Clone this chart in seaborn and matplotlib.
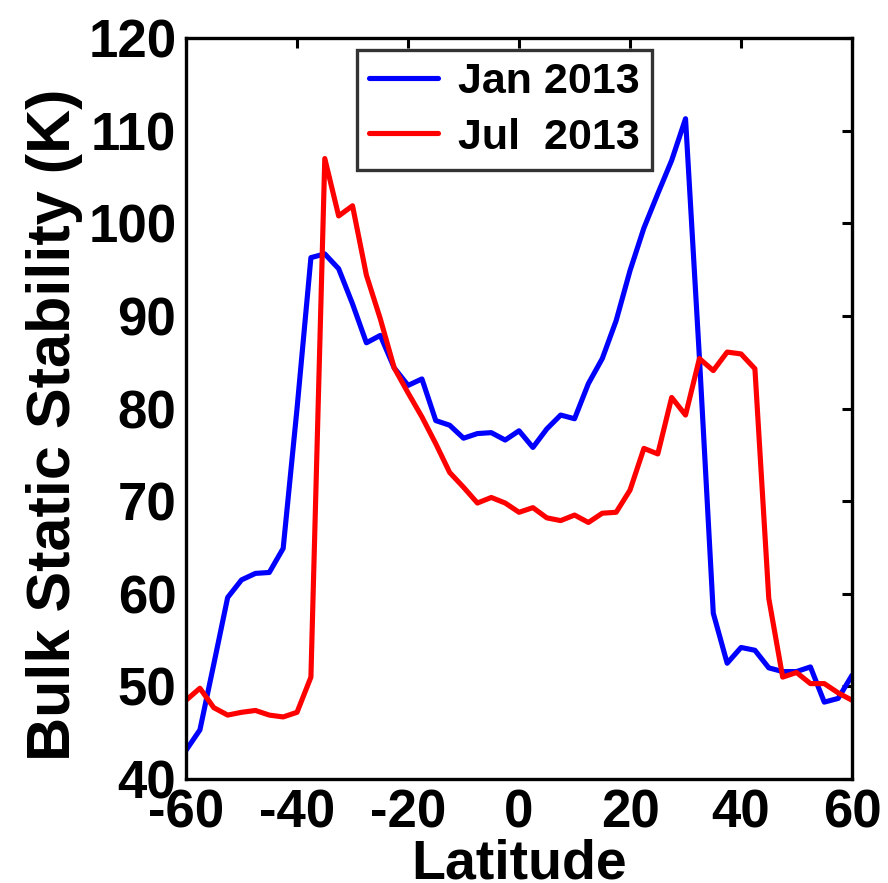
import numpy as np
import pandas as pd
import matplotlib
matplotlib.use("Agg")
import matplotlib.pyplot as plt
import seaborn as sns

# Latitude grid (2.5 degree spacing)
latitude = np.arange(-60, 60.01, 2.5)

# Bulk static stability (K), January 2013
jan_2013 = [43.1, 45.3, 52.4, 59.6, 61.5, 62.2, 62.3, 64.9, 80.0, 96.3,
            96.7, 95.1, 91.3, 87.1, 87.9, 84.4, 82.5, 83.2, 78.7, 78.2,
            76.8, 77.3, 77.4, 76.6, 77.6, 75.8, 77.8, 79.3, 78.9, 82.7,
            85.4, 89.5, 94.9, 99.5, 103.2, 106.8, 111.3, 85.5, 57.9, 52.5,
            54.2, 53.9, 52.0, 51.6, 51.6, 52.1, 48.3, 48.7, 51.2]

# Bulk static stability (K), July 2013
jul_2013 = [48.5, 49.8, 47.7, 46.9, 47.2, 47.4, 46.9, 46.7, 47.2, 51.0,
            107.0, 100.8, 101.9, 94.4, 89.7, 84.4, 81.7, 79.1, 76.2, 73.1,
            71.5, 69.8, 70.4, 69.8, 68.8, 69.3, 68.2, 67.9, 68.5, 67.7,
            68.7, 68.8, 71.2, 75.7, 75.1, 81.2, 79.3, 85.4, 84.1, 86.1,
            85.9, 84.3, 59.5, 51.0, 51.5, 50.3, 50.3, 49.3, 48.5]

series_names = ["Jan 2013", "Jul  2013"]
series_colors = ["#0000ff", "#ff0000"]

y_ticks = [40, 50, 60, 70, 80, 90, 100, 110, 120]
x_ticks = [-60, -40, -20, 0, 20, 40, 60]

df = pd.DataFrame({
    "Latitude": np.concatenate([latitude, latitude]),
    "Stability": np.concatenate([jan_2013, jul_2013]),
    "Month": [series_names[0]] * len(latitude) + [series_names[1]] * len(latitude),
})

sns.set_style("white")
plt.rcParams["font.family"] = ["Liberation Sans", "DejaVu Sans"]
plt.rcParams["font.weight"] = "bold"
plt.rcParams["text.color"] = "black"
plt.rcParams["axes.labelcolor"] = "black"
plt.rcParams["xtick.color"] = "black"
plt.rcParams["ytick.color"] = "black"
plt.rcParams["legend.edgecolor"] = "black"

fig = plt.figure(figsize=(8.88, 8.83), dpi=100)
ax = fig.add_axes([0.2095, 0.1178, 0.75, 0.839])

sns.lineplot(data=df, x="Latitude", y="Stability", hue="Month",
             palette=dict(zip(series_names, series_colors)),
             linewidth=3.7, ax=ax, legend=False)

ax.set_xlim(-60, 60)
ax.set_ylim(40, 120)
ax.set_xticks(x_ticks)
ax.set_yticks(y_ticks)
ax.set_xticklabels([str(t) for t in x_ticks], fontsize=38, fontweight="bold")
ax.set_yticklabels([str(t) for t in y_ticks], fontsize=38, fontweight="bold")
ax.tick_params(direction="in", length=7, width=2.2, top=True, right=True,
               pad=7, colors="black", labelcolor="black")

for sp in ax.spines.values():
    sp.set_visible(True)
    sp.set_linewidth(2.4)
    sp.set_color("black")

ax.set_xlabel("Latitude", fontsize=40, fontweight="bold", labelpad=0,
              color="black")
ax.set_ylabel("Bulk Static Stability (K)", fontsize=44, fontweight="bold",
              labelpad=4, color="black")
ax.yaxis.label.set_y(0.478)

handles = [plt.Line2D([], [], color=c, linewidth=3.7) for c in series_colors]
leg = ax.legend(handles, series_names, loc="upper left",
                bbox_to_anchor=(0.257, 0.984), fontsize=31, frameon=True,
                fancybox=False, handlelength=1.6, handletextpad=0.47,
                borderpad=0.28, labelspacing=0.36, borderaxespad=0)
leg.get_frame().set_edgecolor("black")
leg.get_frame().set_linewidth(2.4)
for t in leg.get_texts():
    t.set_fontweight("bold")
    t.set_color("black")

fig.savefig("out.png", dpi=100, facecolor="white")
